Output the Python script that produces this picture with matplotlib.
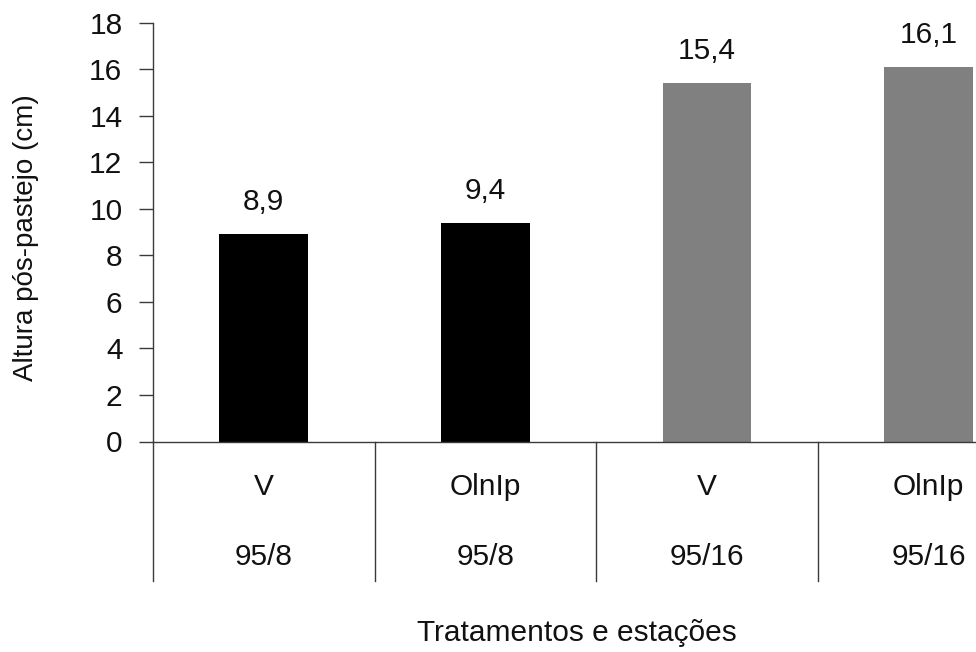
import matplotlib
matplotlib.use("Agg")
import matplotlib.pyplot as plt
import matplotlib.transforms as mtransforms

plt.rcParams['font.family'] = ['Liberation Sans', 'DejaVu Sans']

treatments = ["V", "OlnIp", "V", "OlnIp"]
seasons = ["95/8", "95/8", "95/16", "95/16"]
heights = [8.9, 9.4, 15.4, 16.1]
value_labels = ["8,9", "9,4", "15,4", "16,1"]
bar_colors = ["#000000", "#000000", "#808080", "#808080"]
y_ticks = [0, 2, 4, 6, 8, 10, 12, 14, 16, 18]

FS = 21.5
W, H = 976, 652
fig = plt.figure(figsize=(W / 100, H / 100), dpi=100)
x0, y0_px, ytop_px, cat_w = 153, 441.5, 22.5, 221.6
ax = fig.add_axes([x0 / W, 1 - y0_px / H, 4 * cat_w / W, (y0_px - ytop_px) / H])

xs = list(range(len(heights)))
ax.bar(xs, heights, width=0.4, color=bar_colors, zorder=2)
ax.set_xlim(-0.5, len(heights) - 0.5)
ax.set_ylim(0, 18)
ax.set_yticks(y_ticks)
ax.set_yticklabels([str(t) for t in y_ticks])

line_col = "#3a3a3a"
for side in ("top", "right"):
    ax.spines[side].set_visible(False)
ax.spines["left"].set_color(line_col)
ax.spines["bottom"].set_color(line_col)
ax.spines["left"].set_linewidth(1.0)
ax.spines["bottom"].set_linewidth(1.0)
ax.tick_params(axis="y", direction="out", length=10, width=1.0, color=line_col,
               labelsize=FS, pad=12, labelcolor="#111111")
ax.set_xticks([])

# value labels above each bar
for x, h, lab in zip(xs, heights, value_labels):
    ax.annotate(lab, (x, h), xytext=(0, 13), textcoords="offset points",
                ha="center", va="bottom", fontsize=FS, color="#111111")

# category table below the axis
trans = mtransforms.blended_transform_factory(ax.transData, ax.transAxes)
ax_h_px = y0_px - ytop_px
sep_bottom = -(581 - y0_px) / ax_h_px
for b in [i - 0.5 for i in range(len(heights) + 1)]:
    ax.plot([b, b], [0, sep_bottom], transform=trans, color=line_col,
            lw=1.0, clip_on=False)
row1 = -(487 - y0_px) / ax_h_px
row2 = -(557 - y0_px) / ax_h_px
for x, t, s in zip(xs, treatments, seasons):
    ax.text(x, row1, t, transform=trans, ha="center", va="center",
            fontsize=FS, color="#111111")
    ax.text(x, row2, s, transform=trans, ha="center", va="center",
            fontsize=FS, color="#111111")

fig.text(577 / W, 1 - 633 / H, "Tratamentos e estações", ha="center",
         va="center", fontsize=FS, color="#111111")
fig.text(26 / W, 1 - 238 / H, "Altura pós-pastejo (cm)", rotation=90,
         ha="center", va="center", fontsize=20, color="#111111")

fig.savefig("out.png", dpi=100)
